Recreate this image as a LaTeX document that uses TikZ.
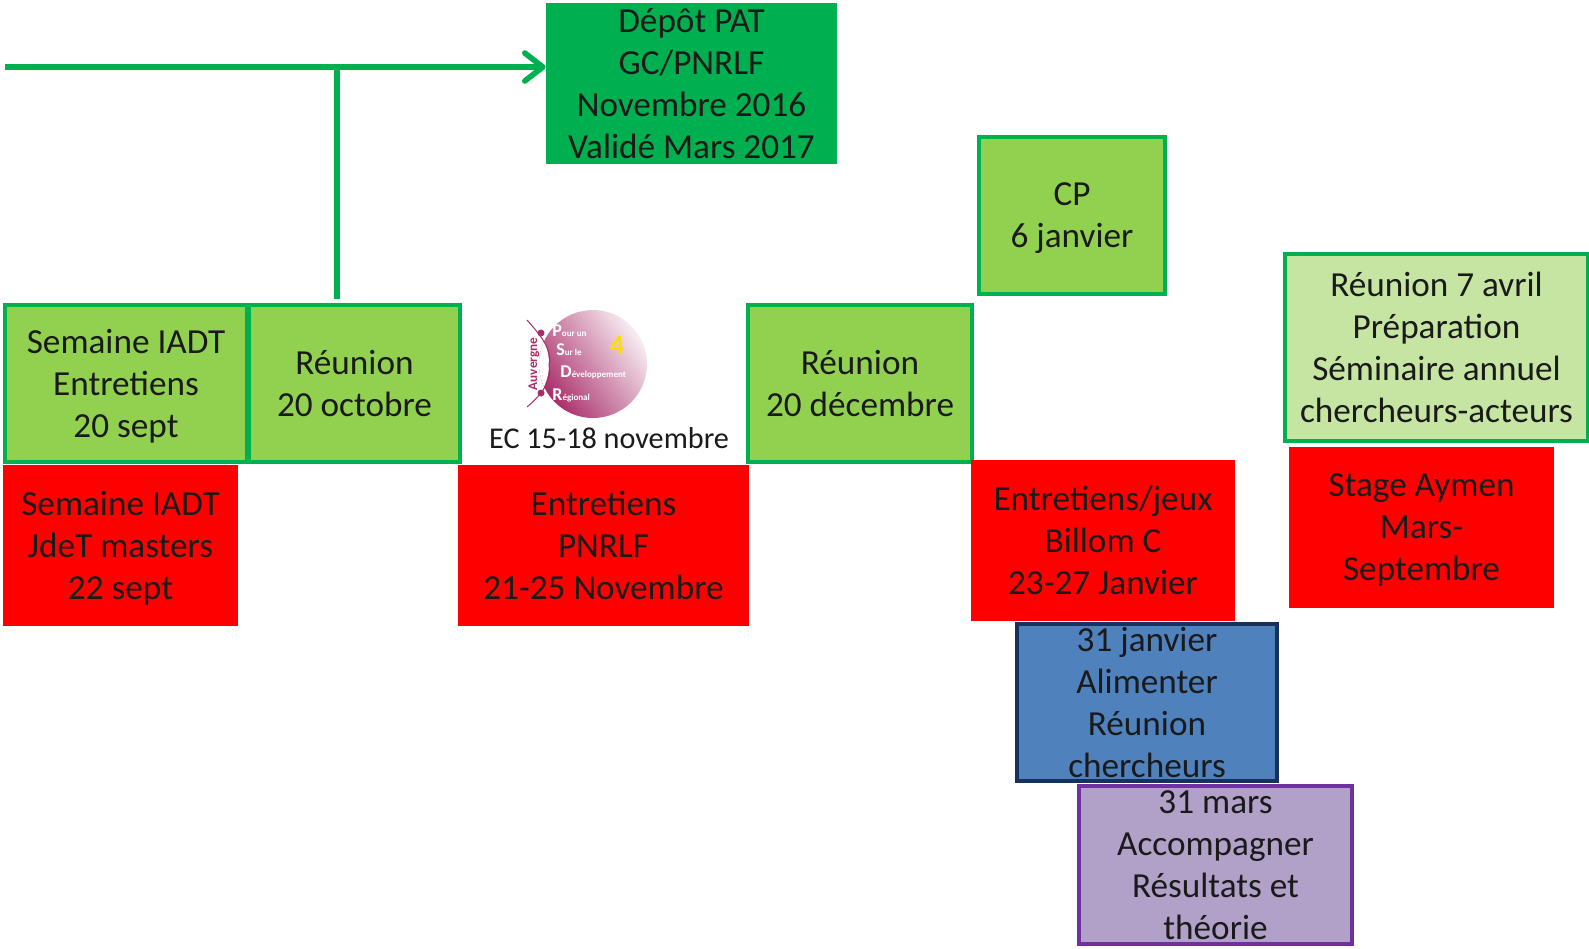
\documentclass[tikz,border=0pt]{standalone}
\usepackage{fontspec}
\setmainfont{Carlito}
\usetikzlibrary{arrows.meta,positioning,calc}

\definecolor{darkgreen}{HTML}{00B050}
\definecolor{midgreen}{HTML}{92D050}
\definecolor{palegreen}{HTML}{C6E5A2}
\definecolor{alertred}{HTML}{FF0000}
\definecolor{blueface}{HTML}{4F81BD}
\definecolor{blueedge}{HTML}{17315F}
\definecolor{purpleface}{HTML}{B1A0C7}
\definecolor{purpleedge}{HTML}{7030A0}
\definecolor{logopink}{HTML}{A92D69}
\definecolor{inktext}{HTML}{1A1A1A}

\tikzset{
  every task/.style={rectangle, inner sep=0pt},
  task depot/.style={fill=darkgreen},
  task meeting/.style={fill=midgreen, draw=darkgreen, line width=2pt},
  task pale/.style={fill=palegreen, draw=darkgreen, line width=2pt},
  task field/.style={fill=alertred},
  task blue/.style={fill=blueface, draw=blueedge, line width=2pt},
  task purple/.style={fill=purpleface, draw=purpleedge, line width=2pt},
  task text/.style={inner sep=0pt, yshift=-3pt, align=center, text=inktext,
    font=\fontsize{17.6}{21}\selectfont,
    execute at begin node=\strut, execute at end node=\strut},
  timeline/.style={draw=darkgreen, line width=2.8pt},
  logo small/.style={inner sep=0pt, text=white, font=\fontsize{4.5}{5}\selectfont\bfseries},
}

\newcommand{\logoinitial}[1]{{\fontsize{9}{10}\selectfont #1}}

\begin{document}
\begin{tikzpicture}[x=0.5pt, y=-0.5pt]

\useasboundingbox (0,0) rectangle (1589,948);

\foreach \n/\s/\x/\y/\w/\h/\l in {
  depot/depot/691.5/83.5/291/161/{Dépôt PAT\\GC/PNRLF\\Novembre 2016\\Validé Mars 2017},
  semaine/meeting/126/383.5/242/157/{Semaine IADT\\Entretiens\\20 sept},
  octobre/meeting/354.5/383.5/211/157/{Réunion\\20 octobre},
  decembre/meeting/860/383.5/224/157/{Réunion\\20 décembre},
  cp/meeting/1072/215.5/186/157/{CP\\6 janvier},
  avril/pale/1436.5/347.5/303/187/{Réunion 7 avril\\Préparation\\Séminaire annuel\\chercheurs-acteurs},
  masters/field/120.5/545.5/235/161/{Semaine IADT\\JdeT masters\\22 sept},
  pnrlf/field/603.5/545.5/291/161/{Entretiens\\PNRLF\\21-25 Novembre},
  billom/field/1103/540.5/264/161/{Entretiens/jeux\\Billom C\\23-27 Janvier},
  stage/field/1421.5/527.5/265/161/{Stage Aymen\\Mars-\\Septembre},
  alimenter/blue/1147/702.5/260/157/{31 janvier\\Alimenter\\Réunion\\chercheurs},
  accompagner/purple/1215.5/865/273/158/{31 mars\\Accompagner\\Résultats et\\théorie}}
{
  \node [every task/.try, task \s/.try, minimum width=\w*0.5pt, minimum height=\h*0.5pt]
    (\n) at (\x,\y) {};
  \node [task text] (\n-text) at (\n.center) {\l};
}

\coordinate (start) at (5,67);
\coordinate (branch) at (337,67);
\coordinate (foot) at (337,299);
\draw [timeline, -{Straight Barb[length=9pt, width=14pt, round]}] (start) -- (start -| depot.west);
\draw [timeline] (branch) -- (foot);

\node [task text, font=\fontsize{15.1}{18}\selectfont] (ec) at (609,435) {EC 15-18 novembre};

\begin{scope}
  \clip (593,364) circle (54);
  \shade [left color=logopink, right color=white!92!logopink, shading angle=125] (593,364) circle (54);
  \fill [white] (495,364) circle (54);
\end{scope}
\draw [logopink, line width=0.5pt] (527,320) .. controls (545,340) and (552,352) .. (549,365)
  .. controls (552,378) and (545,392) .. (527,407);
\fill [logopink] (541,333) circle (3.5) (541,393) circle (3.5);

\node [inner sep=0pt, rotate=90, text=logopink, font=\fontsize{6.6}{7}\selectfont\bfseries] (auvergne) at (534,364) {Auvergne};
\node [logo small, anchor=west] (pour) at (552,331) {\logoinitial{P}our un};
\node [logo small, anchor=west] (sur) at (556,350) {\logoinitial{S}ur le};
\node [logo small, anchor=west] (dev) at (560,372) {\logoinitial{D}éveloppement};
\node [logo small, anchor=west] (regional) at (552,395) {\logoinitial{R}égional};
\node [inner sep=0pt, text=yellow!80!orange, font=\fontsize{14}{15}\selectfont\bfseries] (four) at (617,345) {4};

\end{tikzpicture}
\end{document}
